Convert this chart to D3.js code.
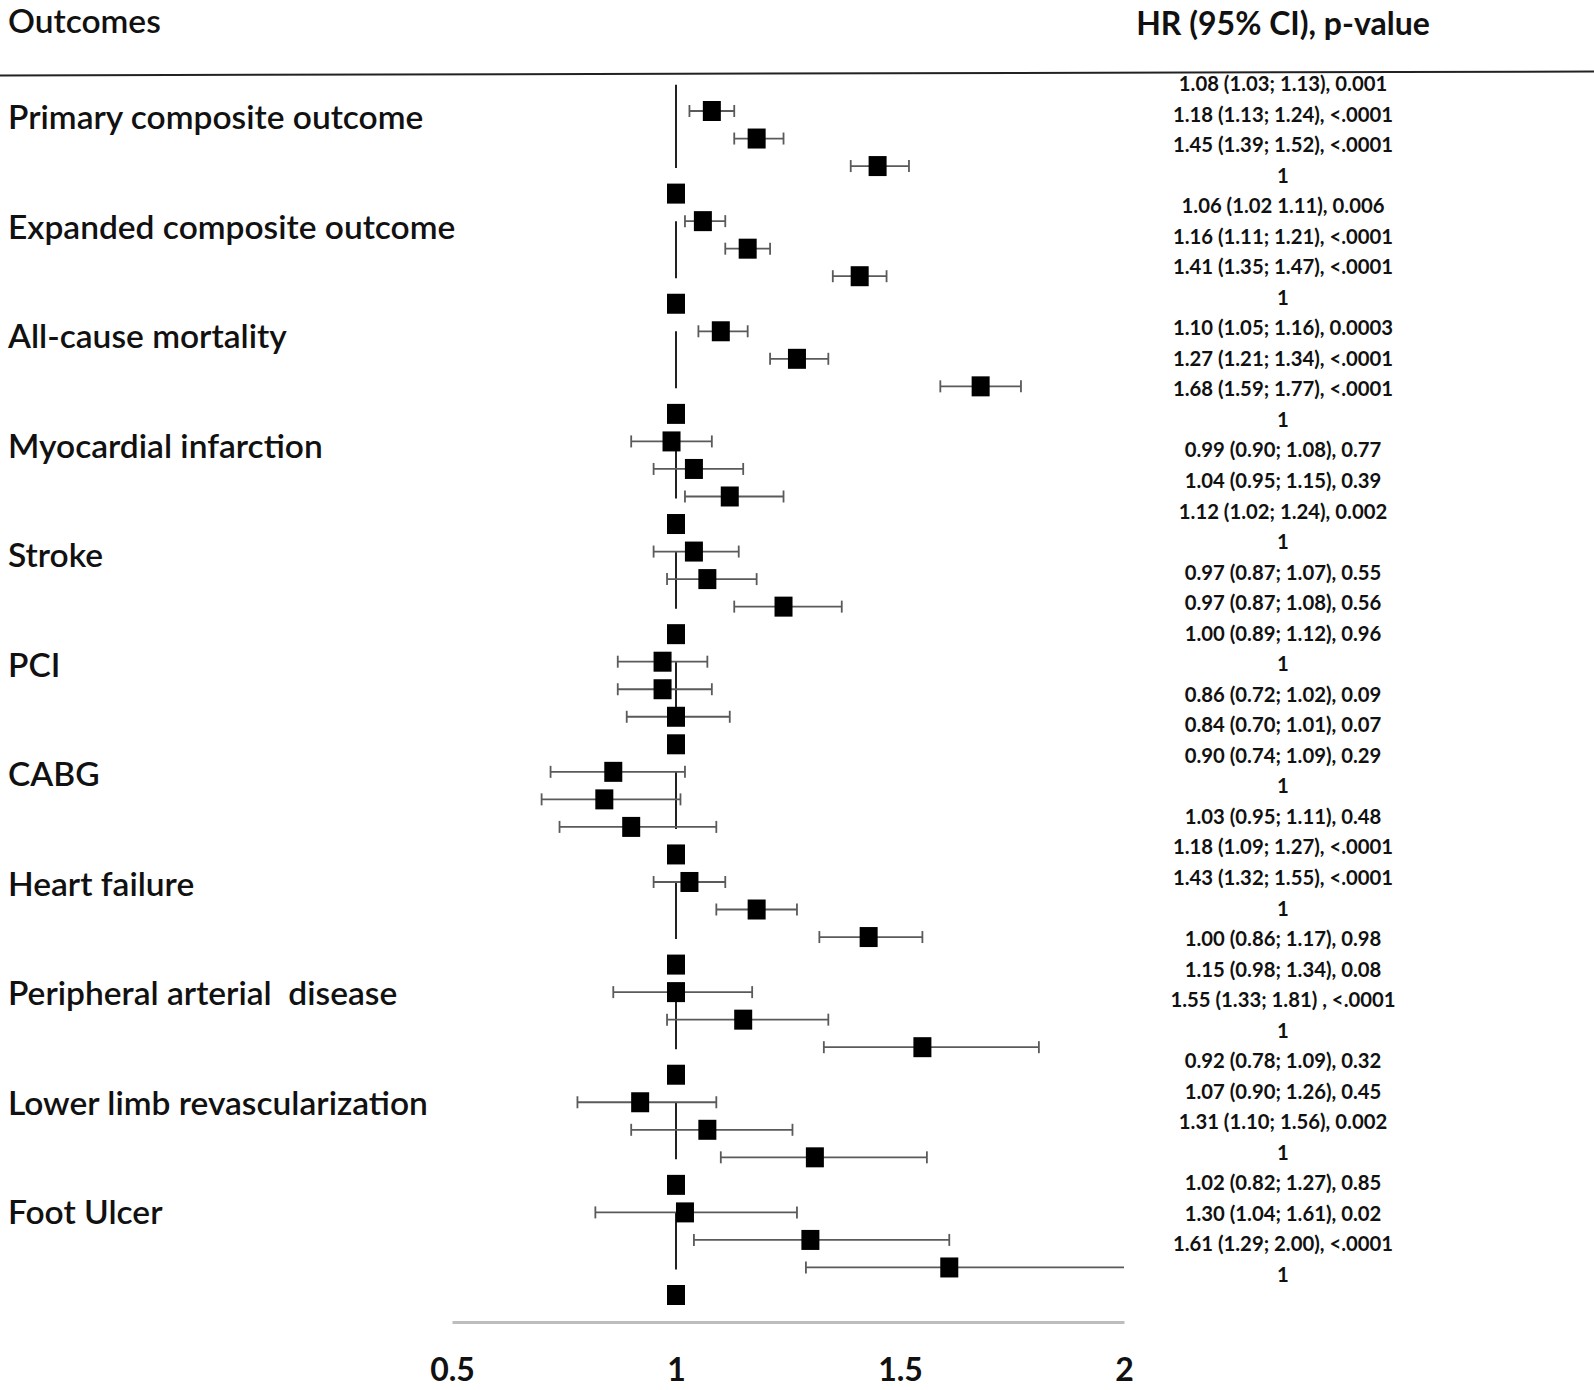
<!DOCTYPE html>
<html>
<head>
<meta charset="utf-8">
<script src="https://cdn.jsdelivr.net/npm/d3@7/dist/d3.min.js"></script>
<style>
  html, body { margin: 0; padding: 0; background: #fff; }
  svg { display: block; }
  text { white-space: pre; }
</style>
</head>
<body>
<svg id="chart" width="1594" height="1390"></svg>
<script>
// ---------------- DATA ----------------
const outcomes = [
  "Primary composite outcome",
  "Expanded composite outcome",
  "All-cause mortality",
  "Myocardial infarction",
  "Stroke",
  "PCI",
  "CABG",
  "Heart failure",
  "Peripheral arterial  disease",
  "Lower limb revascularization",
  "Foot Ulcer"
];
// three hazard ratios per outcome (reference group = 1 follows each)
const hr = [
  [1.08, 1.18, 1.45],
  [1.06, 1.16, 1.41],
  [1.10, 1.27, 1.68],
  [0.99, 1.04, 1.12],
  [1.04, 1.07, 1.24],
  [0.97, 0.97, 1.00],
  [0.86, 0.84, 0.90],
  [1.03, 1.18, 1.43],
  [1.00, 1.15, 1.55],
  [0.92, 1.07, 1.31],
  [1.02, 1.30, 1.61]
];
const ciLow = [
  [1.03, 1.13, 1.39],
  [1.02, 1.11, 1.35],
  [1.05, 1.21, 1.59],
  [0.90, 0.95, 1.02],
  [0.95, 0.98, 1.13],
  [0.87, 0.87, 0.89],
  [0.72, 0.70, 0.74],
  [0.95, 1.09, 1.32],
  [0.86, 0.98, 1.33],
  [0.78, 0.90, 1.10],
  [0.82, 1.04, 1.29]
];
const ciHigh = [
  [1.13, 1.24, 1.52],
  [1.11, 1.21, 1.47],
  [1.16, 1.34, 1.77],
  [1.08, 1.15, 1.24],
  [1.14, 1.18, 1.37],
  [1.07, 1.08, 1.12],
  [1.02, 1.01, 1.09],
  [1.11, 1.27, 1.55],
  [1.17, 1.34, 1.81],
  [1.09, 1.26, 1.56],
  [1.27, 1.61, 2.00]
];
const refValue = 1;
const hrLabels = [
  "1.08 (1.03; 1.13), 0.001",
  "1.18 (1.13; 1.24), <.0001",
  "1.45 (1.39; 1.52), <.0001",
  "1",
  "1.06 (1.02 1.11), 0.006",
  "1.16 (1.11; 1.21), <.0001",
  "1.41 (1.35; 1.47), <.0001",
  "1",
  "1.10 (1.05; 1.16), 0.0003",
  "1.27 (1.21; 1.34), <.0001",
  "1.68 (1.59; 1.77), <.0001",
  "1",
  "0.99 (0.90; 1.08), 0.77",
  "1.04 (0.95; 1.15), 0.39",
  "1.12 (1.02; 1.24), 0.002",
  "1",
  "0.97 (0.87; 1.07), 0.55",
  "0.97 (0.87; 1.08), 0.56",
  "1.00 (0.89; 1.12), 0.96",
  "1",
  "0.86 (0.72; 1.02), 0.09",
  "0.84 (0.70; 1.01), 0.07",
  "0.90 (0.74; 1.09), 0.29",
  "1",
  "1.03 (0.95; 1.11), 0.48",
  "1.18 (1.09; 1.27), <.0001",
  "1.43 (1.32; 1.55), <.0001",
  "1",
  "1.00 (0.86; 1.17), 0.98",
  "1.15 (0.98; 1.34), 0.08",
  "1.55 (1.33; 1.81) , <.0001",
  "1",
  "0.92 (0.78; 1.09), 0.32",
  "1.07 (0.90; 1.26), 0.45",
  "1.31 (1.10; 1.56), 0.002",
  "1",
  "1.02 (0.82; 1.27), 0.85",
  "1.30 (1.04; 1.61), 0.02",
  "1.61 (1.29; 2.00), <.0001",
  "1"
];
const xTicks = [0.5, 1, 1.5, 2];
const headerLeft = "Outcomes";
const headerRight = "HR (95% CI), p-value";

// ---------------- LAYOUT ----------------
const FONT = "Lato, 'Open Sans', sans-serif";
const svg = d3.select("#chart");
svg.append("rect").attr("width", 1594).attr("height", 1390).attr("fill", "#fff");

const x = d3.scaleLinear().domain([0.5, 2]).range([452, 1124]);
const nRows = outcomes.length * 4;
const y = d3.scalePoint().domain(d3.range(nRows)).range([111, 1295]);
const yStep = y.step();
const yLabel = d3.scalePoint().domain(d3.range(outcomes.length)).range([129, 1224]);
const yText = d3.scalePoint().domain(d3.range(hrLabels.length)).range([91, 1282]);

// flatten rows
const rows = [];
outcomes.forEach((name, g) => {
  hr[g].forEach((v, k) => rows.push({ row: 4 * g + k, v, lo: ciLow[g][k], hi: ciHigh[g][k], ref: false }));
  rows.push({ row: 4 * g + 3, v: refValue, ref: true });
});

// header
svg.append("text").attr("x", 8).attr("y", 33)
  .attr("font-family", FONT).attr("font-size", 33.5).attr("font-weight", 600)
  .attr("fill", "#111").text(headerLeft);
svg.append("text").attr("x", 1283).attr("y", 35).attr("text-anchor", "middle")
  .attr("font-family", FONT).attr("font-size", 32).attr("font-weight", 700)
  .attr("fill", "#111").text(headerRight);
svg.append("line").attr("x1", 0).attr("x2", 1594).attr("y1", 75.5).attr("y2", 71.5)
  .attr("stroke", "#222").attr("stroke-width", 2);

// outcome labels
svg.append("g").selectAll("text").data(outcomes).join("text")
  .attr("x", 8).attr("y", (d, g) => yLabel(g))
  .attr("font-family", FONT).attr("font-size", 33.5).attr("font-weight", 600)
  .attr("fill", "#111").text(d => d);

// reference vertical segments
svg.append("g").selectAll("line").data(outcomes).join("line")
  .attr("x1", x(refValue)).attr("x2", x(refValue))
  .attr("y1", (d, g) => y(4 * g) - (g === 0 ? yStep * 0.95 : 0))
  .attr("y2", (d, g) => y(4 * g + 2) + 2)
  .attr("stroke", "#222").attr("stroke-width", 2);

// CI whiskers
const ciRows = rows.filter(r => !r.ref);
const gCI = svg.append("g").attr("stroke", "#5a5a5a").attr("stroke-width", 1.8);
gCI.selectAll("line.ci").data(ciRows).join("line").attr("class", "ci")
  .attr("x1", d => x(d.lo)).attr("x2", d => x(Math.min(d.hi, x.domain()[1])))
  .attr("y1", d => y(d.row)).attr("y2", d => y(d.row));
gCI.selectAll("line.capL").data(ciRows).join("line").attr("class", "capL")
  .attr("x1", d => x(d.lo)).attr("x2", d => x(d.lo))
  .attr("y1", d => y(d.row) - 6).attr("y2", d => y(d.row) + 6);
gCI.selectAll("line.capR").data(ciRows.filter(d => d.hi < x.domain()[1])).join("line").attr("class", "capR")
  .attr("x1", d => x(d.hi)).attr("x2", d => x(d.hi))
  .attr("y1", d => y(d.row) - 6).attr("y2", d => y(d.row) + 6);

// markers
const mW = 18, mH = 20;
svg.append("g").selectAll("rect").data(rows).join("rect")
  .attr("x", d => x(d.v) - mW / 2).attr("y", d => y(d.row) - mH / 2)
  .attr("width", mW).attr("height", mH).attr("fill", "#000");

// right column text
svg.append("g").selectAll("text").data(hrLabels).join("text")
  .attr("x", 1283).attr("y", (d, i) => yText(i)).attr("text-anchor", "middle")
  .attr("font-family", FONT).attr("font-size", 20.3).attr("font-weight", 700)
  .attr("fill", "#111").text(d => d);

// x axis
const axis = d3.axisBottom(x).tickValues(xTicks).tickSize(0).tickSizeOuter(0).tickPadding(36)
  .tickFormat(d => String(d));
const gAx = svg.append("g").attr("transform", "translate(0,1322)").call(axis);
gAx.select(".domain").attr("stroke", "#bdbdbd").attr("stroke-width", 3);
gAx.selectAll("text").attr("font-family", FONT).attr("font-size", 32).attr("font-weight", 700)
  .attr("fill", "#111");
</script>
</body>
</html>
